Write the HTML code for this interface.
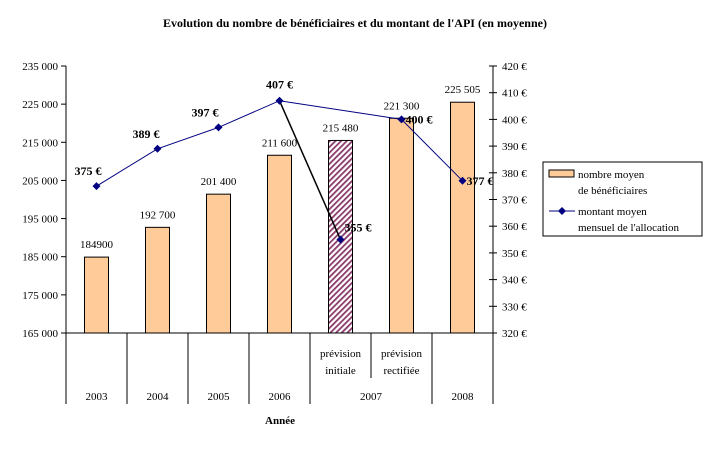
<!DOCTYPE html>
<html><head><meta charset="utf-8"><style>
body{margin:0;background:#fff;width:711px;height:447px;overflow:hidden;font-family:"Liberation Serif",serif}
svg text{font-family:"Liberation Serif",serif}
</style></head><body>
<svg id="c" width="711" height="447">
<defs><pattern id="hatch" width="4" height="4" patternUnits="userSpaceOnUse" patternTransform="rotate(45)"><rect width="4" height="4" fill="#fff"/><rect width="1.8" height="4" fill="#8a3a6a"/></pattern></defs>
<text x="355" y="27" text-anchor="middle" font-size="12" font-weight="bold">Evolution du nombre de bénéficiaires et du montant de l'API (en moyenne)</text>
<g id="g"></g>
</svg>
<script>
const categories=["2003","2004","2005","2006","prévision initiale","prévision rectifiée","2008"];
const beneficiaries=[184900,192700,201400,211600,215480,221300,225505];
const beneficiaryLabels=["184900","192 700","201 400","211 600","215 480","221 300","225 505"];
const allocation=[375,389,397,407,355,400,377];
const leftTicks=[165000,175000,185000,195000,205000,215000,225000,235000];
const rightTicks=[320,330,340,350,360,370,380,390,400,410,420];
const ns="http://www.w3.org/2000/svg",g=document.getElementById('g');
const X0=66,X1=493,Y0=333,Y1=66,cw=(X1-X0)/7;
const yL=v=>Y0-(v-165000)/70000*(Y0-Y1);
const yR=v=>Y0-(v-320)/100*(Y0-Y1);
const xC=i=>X0+cw*(i+0.5);
function el(t,a,txt){const e=document.createElementNS(ns,t);for(const k in a)e.setAttribute(k,a[k]);if(txt!=null)e.textContent=txt;g.appendChild(e);return e;}
function ln(x1,y1,x2,y2,c,w){return el('line',{x1,y1,x2,y2,stroke:c||'#000','stroke-width':w||1});}
let a=ln(X0,Y1,X0,404);
a=ln(X1,Y1,X1,362);
a=ln(X0,Y0,X1,Y0);
leftTicks.forEach(v=>{const y=yL(v);ln(X0-5,y,X0,y);
 const t=el('text',{x:X0-8,y:y+4,'text-anchor':'end','font-size':11},String(v).replace(/(\d{3})$/,' $1'));
 });
rightTicks.forEach(v=>{const y=yR(v);ln(X1-4,y,X1+4,y);
 const t=el('text',{x:X1+9,y:y+4,'font-size':11},v+' €');
 });
[1,2,3,4,6].forEach(i=>ln(X0+cw*i,Y0,X0+cw*i,404));
ln(X0+cw*5,Y0,X0+cw*5,378);
ln(X1,Y0,X1,404);
beneficiaries.forEach((v,i)=>{const x=xC(i)-12,y=yL(v);
 const r=el('rect',{x,y,width:24,height:Y0-y,fill:i==4?'url(#hatch)':'#ffcc99',stroke:'#000','stroke-width':1});
 
 const t=el('text',{x:xC(i),y:y-9,'text-anchor':'middle','font-size':11},beneficiaryLabels[i]);
 });
["2003","2004","2005","2006"].forEach((s,i)=>{const t=el('text',{x:xC(i),y:400,'text-anchor':'middle','font-size':11},s);});
[[4,"prévision","initiale"],[5,"prévision","rectifiée"]].forEach(([i,a1,a2])=>{el('text',{x:xC(i),y:357,'text-anchor':'middle','font-size':11},a1);el('text',{x:xC(i),y:374,'text-anchor':'middle','font-size':11},a2);});
let t=el('text',{x:X0+cw*5,y:400,'text-anchor':'middle','font-size':11},"2007");
t=el('text',{x:xC(6),y:400,'text-anchor':'middle','font-size':11},"2008");
t=el('text',{x:280,y:424,'text-anchor':'middle','font-size':11,'font-weight':'bold'},"Année");
const pt=i=>[xC(i),yR(allocation[i])];
const mainIdx=[0,1,2,3,5,6];
const p=el('polyline',{points:mainIdx.map(i=>pt(i).join(',')).join(' '),fill:'none',stroke:'#000080','stroke-width':1});

const d=el('polyline',{points:[pt(3),pt(4)].map(q=>q.join(',')).join(' '),fill:'none',stroke:'#000','stroke-width':1.5});

const lblOff=[[5,-11,'end'],[2,-11,'end'],[0,-11,'end'],[0,-12,'middle'],[4,-8,'start'],[4,4,'start'],[4,4,'start']];
allocation.forEach((v,i)=>{const [x,y]=pt(i);
 const m=el('path',{d:`M${x},${y-4}L${x+4},${y}L${x},${y+4}L${x-4},${y}Z`,fill:'#000080'});
 
 const o=lblOff[i];const tt=el('text',{x:x+o[0],y:y+o[1],'text-anchor':o[2],'font-size':12,'font-weight':'bold'},v+' €');
 });
const L=el('rect',{x:543,y:162,width:159,height:74,fill:'#fff',stroke:'#000'});
el('rect',{x:549,y:170,width:25,height:7,fill:'#ffcc99',stroke:'#000'});
t=el('text',{x:578,y:178,'font-size':11},"nombre moyen");
el('text',{x:578,y:194,'font-size':11},"de bénéficiaires");
ln(549,211,575,211,'#000080');el('path',{d:'M562,207L566,211L562,215L558,211Z',fill:'#000080'});
t=el('text',{x:578,y:215,'font-size':11},"montant moyen");
el('text',{x:578,y:231,'font-size':11},"mensuel de l'allocation");
</script>
</body></html>
